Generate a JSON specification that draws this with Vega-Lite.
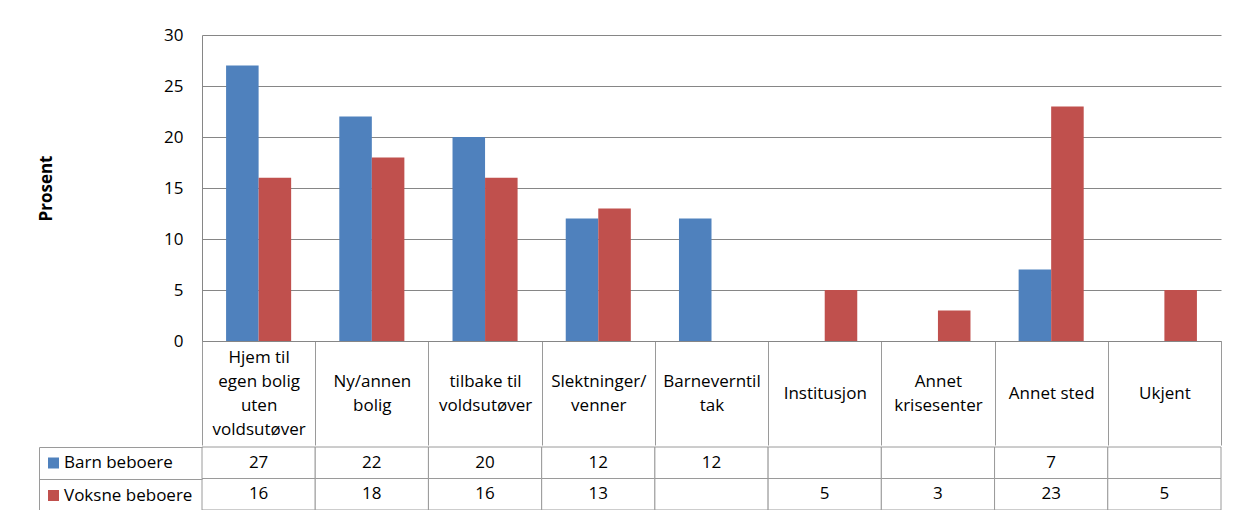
{
  "$schema": "https://vega.github.io/schema/vega-lite/v6.json",
  "padding": {"left": 37, "top": 26, "right": 5, "bottom": 0},
  "background": "white",
  "config": {
    "font": "Open Sans",
    "view": {"stroke": null},
    "concat": {"spacing": 0}
  },
  "datasets": {
    "d": [
      {"kat": "Hjem til|egen bolig|uten|voldsutøver", "serie": "Barn beboere", "verdi": 27},
      {"kat": "Hjem til|egen bolig|uten|voldsutøver", "serie": "Voksne beboere", "verdi": 16},
      {"kat": "Ny/annen|bolig", "serie": "Barn beboere", "verdi": 22},
      {"kat": "Ny/annen|bolig", "serie": "Voksne beboere", "verdi": 18},
      {"kat": "tilbake til|voldsutøver", "serie": "Barn beboere", "verdi": 20},
      {"kat": "tilbake til|voldsutøver", "serie": "Voksne beboere", "verdi": 16},
      {"kat": "Slektninger/|venner", "serie": "Barn beboere", "verdi": 12},
      {"kat": "Slektninger/|venner", "serie": "Voksne beboere", "verdi": 13},
      {"kat": "Barneverntil|tak", "serie": "Barn beboere", "verdi": 12},
      {"kat": "Barneverntil|tak", "serie": "Voksne beboere", "verdi": null},
      {"kat": "Institusjon", "serie": "Barn beboere", "verdi": null},
      {"kat": "Institusjon", "serie": "Voksne beboere", "verdi": 5},
      {"kat": "Annet|krisesenter", "serie": "Barn beboere", "verdi": null},
      {"kat": "Annet|krisesenter", "serie": "Voksne beboere", "verdi": 3},
      {"kat": "Annet sted", "serie": "Barn beboere", "verdi": 7},
      {"kat": "Annet sted", "serie": "Voksne beboere", "verdi": 23},
      {"kat": "Ukjent", "serie": "Barn beboere", "verdi": null},
      {"kat": "Ukjent", "serie": "Voksne beboere", "verdi": 5}
    ]
  },
  "spacing": 0,
  "resolve": {"legend": {"color": "independent"}, "scale": {"color": "independent"}},
  "vconcat": [
    {
      "width": 1019,
      "height": 306,
      "data": {"name": "d"},
      "mark": {"type": "bar"},
      "encoding": {
        "x": {
          "field": "kat", "type": "nominal", "sort": null,
          "scale": {"paddingInner": 0, "paddingOuter": 0},
          "axis": {
            "title": null, "labelAngle": 0,
            "labelExpr": "split(datum.label, '|')",
            "labelBaseline": "middle", "labelLineHeight": 24,
            "labelFontSize": 17, "labelColor": "#000000",
            "labelPadding": {
              "condition": [
                {"test": "length(split(datum.value, '|')) == 4", "value": -88},
                {"test": "length(split(datum.value, '|')) == 2", "value": -64}
              ],
              "value": -52
            },
            "labelLimit": 0,
            "tickBand": "extent", "tickSize": 104, "tickColor": "#9a9a9a",
            "domainColor": "#868686"
          }
        },
        "xOffset": {"field": "serie", "type": "nominal", "scale": {"paddingOuter": 0.74, "paddingInner": 0}},
        "y": {
          "field": "verdi", "type": "quantitative",
          "scale": {"domain": [0, 30]},
          "axis": {
            "values": [0, 5, 10, 15, 20, 25, 30],
            "title": "Prosent", "titleFontWeight": "bold", "titleFontSize": 17, "titleColor": "#000000",
            "titlePadding": 107, "minExtent": 40, "maxExtent": 40,
            "ticks": false, "labelPadding": 19, "labelFontSize": 17, "labelColor": "#000000",
            "grid": true, "gridColor": "#868686", "domainColor": "#868686"
          }
        },
        "color": {"field": "serie", "type": "nominal", "scale": {"domain": ["Barn beboere", "Voksne beboere"], "range": ["#4F81BD", "#C0504D"]}, "legend": null}
      }
    },
    {
      "width": 1019,
      "height": 63,
      "data": {"name": "d"},
      "encoding": {
        "x": {"field": "kat", "type": "nominal", "sort": null, "axis": null, "scale": {"paddingInner": 0, "paddingOuter": 0}},
        "y": {
          "field": "serie", "type": "nominal",
          "scale": {"paddingInner": 0, "paddingOuter": 0},
          "axis": {
            "title": null, "labels": false, "offset": 163, "tickSize": -163,
            "tickBand": "extent", "tickColor": "#9a9a9a", "domainColor": "#9a9a9a"
          }
        }
      },
      "layer": [
        {
          "mark": {"type": "rect", "fill": "white", "stroke": "#9a9a9a"},
          "encoding": {
            "color": {
              "field": "serie", "type": "nominal",
              "scale": {"domain": ["Barn beboere", "Voksne beboere"], "range": ["#4F81BD", "#C0504D"]},
              "legend": {
                "orient": "none", "legendX": -157, "legendY": 7.5, "title": null, "padding": 0,
                "symbolType": "square", "symbolSize": 121, "symbolStrokeWidth": 0,
                "symbolFillColor": null,
                "labelFontSize": 17, "labelColor": "#000000", "labelOffset": 2, "rowPadding": 14.5, "labelLimit": 0
              }
            }
          }
        },
        {
          "transform": [{"filter": "isValid(datum.verdi)"}],
          "mark": {"type": "text", "fontSize": 17, "color": "#000000"},
          "encoding": {"text": {"field": "verdi", "type": "quantitative"}}
        }
      ]
    }
  ]
}
